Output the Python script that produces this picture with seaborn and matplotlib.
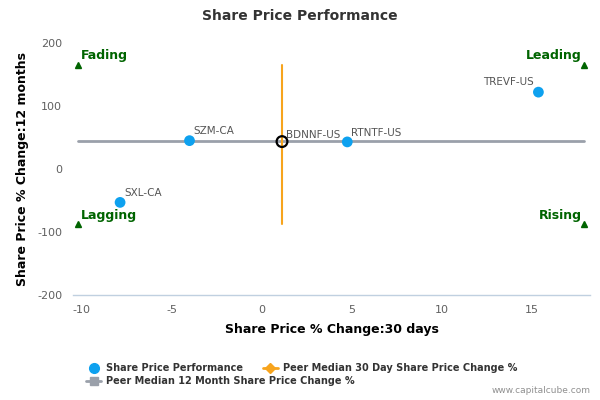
import matplotlib
matplotlib.use("Agg")
import matplotlib.pyplot as plt
import seaborn as sns
import pandas as pd
from matplotlib.lines import Line2D

# Data
tickers = ["TREVF-US", "SZM-CA", "RTNTF-US", "SXL-CA"]
chg_30d = [15.35, -4.0, 4.75, -7.85]
chg_12m = [122.0, 45.0, 43.0, -53.0]

subject = "BDNNF-US"
subject_30d = 1.13
subject_12m = 43.5

median_30d = 1.13
median_12m = 44.0

quad_x = [-10.2, 17.9]
quad_y = [-88.0, 165.0]
quad_names = ["Fading", "Leading", "Lagging", "Rising"]

xticks = [-10, -5, 0, 5, 10, 15]
yticks = [-200, -100, 0, 100, 200]

df = pd.DataFrame({"ticker": tickers, "x": chg_30d, "y": chg_12m})

sns.set_theme(style="white")
plt.rcParams["font.family"] = ["DejaVu Sans"]
plt.rcParams["axes.unicode_minus"] = False

fig = plt.figure(figsize=(6, 4), dpi=100)
ax = fig.add_axes([0.122, 0.2625, 0.861, 0.63])

blue = "#0ea1ef"
orange = "#f7a41d"
grey = "#9aa0aa"
green = "#006400"

# median lines
ax.plot([quad_x[0], quad_x[1]], [median_12m, median_12m], color=grey, lw=2, zorder=2)
ax.plot([median_30d, median_30d], [quad_y[0], quad_y[1]], color=orange, lw=1.5, zorder=3)

# peers
sns.scatterplot(data=df, x="x", y="y", ax=ax, color=blue, s=60, edgecolor="none", zorder=4, legend=False)

# subject
ax.scatter([subject_30d], [subject_12m], s=60, facecolors="none", edgecolors="black", linewidths=1.6, zorder=5)

# labels
offsets = {"TREVF-US": (-3, 4, "right"), "SZM-CA": (3, 3, "left"), "RTNTF-US": (3, 3, "left"), "SXL-CA": (3, 3, "left")}
for t, x, y in zip(tickers, chg_30d, chg_12m):
    dx, dy, ha = offsets[t]
    ax.annotate(t, (x, y), xytext=(dx, dy), textcoords="offset points", ha=ha, va="bottom",
                fontsize=7.5, color="#555555", zorder=6)
ax.annotate(subject, (subject_30d, subject_12m), xytext=(3, 1), textcoords="offset points",
            ha="left", va="bottom", fontsize=7.5, color="#555555", zorder=6)

# quadrant markers
qpos = [(quad_x[0], quad_y[1]), (quad_x[1], quad_y[1]), (quad_x[0], quad_y[0]), (quad_x[1], quad_y[0])]
for name, (qx, qy) in zip(quad_names, qpos):
    ax.plot([qx], [qy], marker="^", color=green, markersize=5, linestyle="none", zorder=5)
    left = qx == quad_x[0]
    ax.annotate(name, (qx, qy), xytext=(2 if left else -2, 2), textcoords="offset points",
                ha="left" if left else "right", va="bottom", fontsize=9, fontweight="bold", color=green)

ax.set_xlim(-10.45, 18.2)
ax.set_ylim(-200, 200)
ax.set_xticks(xticks)
ax.set_yticks(yticks)
ax.tick_params(axis="x", colors="#c0d0e0", length=5, width=1, labelcolor="#606060", labelsize=8, pad=2)
ax.tick_params(axis="y", length=0, labelcolor="#606060", labelsize=8, pad=8)
for s in ["top", "right", "left"]:
    ax.spines[s].set_visible(False)
ax.spines["bottom"].set_color("#c0d0e0")
ax.spines["bottom"].set_linewidth(1)

ax.set_xlabel("Share Price % Change:30 days", fontsize=9, fontweight="bold", color="black", labelpad=6)
ax.set_ylabel("Share Price % Change:12 months", fontsize=9, fontweight="bold", color="black", labelpad=6)
fig.text(0.5, 0.96, "Share Price Performance", ha="center", va="center", fontsize=10,
         fontweight="bold", color="#333333")

h1 = Line2D([], [], marker="o", color=blue, linestyle="none", markersize=7)
h2 = Line2D([], [], marker="D", color=orange, lw=2, markersize=5)
h3 = Line2D([], [], marker="s", color=grey, lw=2, markersize=6)
common = dict(frameon=False, prop={"size": 7, "weight": "bold"}, labelcolor="#333333",
              handlelength=1.6, handletextpad=0.5, columnspacing=2.0, borderpad=0)
fig.legend([h1, h2], ["Share Price Performance", "Peer Median 30 Day Share Price Change %"],
           ncol=2, loc="center left", bbox_to_anchor=(0.135, 0.08), **common)
fig.legend([h3], ["Peer Median 12 Month Share Price Change %"],
           ncol=1, loc="center left", bbox_to_anchor=(0.135, 0.047), **common)

fig.text(0.985, 0.012, "www.capitalcube.com", ha="right", va="bottom", fontsize=6.5, color="#909090")

fig.savefig("out.png", dpi=100)
